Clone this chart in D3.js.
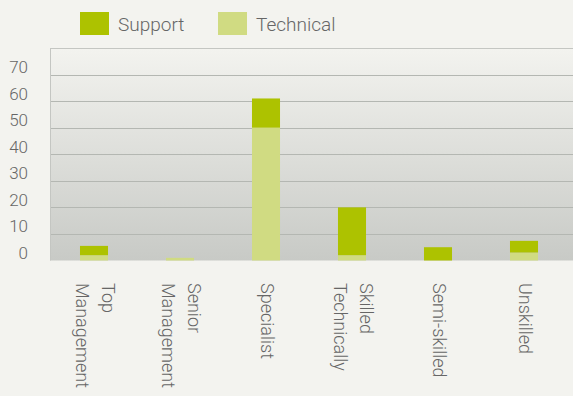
<!DOCTYPE html>
<html>
<head>
<meta charset="utf-8">
<script src="https://cdn.jsdelivr.net/npm/d3@7"></script>
<style>
  body { margin: 0; background: #f3f3ef; }
  svg text { font-family: Roboto, "Open Sans", sans-serif; font-weight: 300; fill: #666; }
</style>
</head>
<body>
<div id="chart"></div>
<script>
var width = 573, height = 396;

// data
var categories = ["Top Management", "Senior Management", "Specialist", "Technically Skilled", "Semi-skilled", "Unskilled"];
var categoryLines = [["Top", "Management"], ["Senior", "Management"], ["Specialist"], ["Skilled", "Technically"], ["Semi-skilled"], ["Unskilled"]];
var technical = [2, 1, 50, 2, 0, 3];
var support = [3.5, 0, 11, 18, 5, 4.4];
var seriesNames = ["Support", "Technical"];
var yTicks = [0, 10, 20, 30, 40, 50, 60, 70];

var colors = { Support: "#adc200", Technical: "#d0db82" };

var plot = { left: 50, right: 573, top: 48, bottom: 260.5 };

var svg = d3.select("#chart")
    .append("svg")
    .attr("width", width)
    .attr("height", height);

// background gradient of the plot
var grad = svg.append("defs").append("linearGradient")
    .attr("id", "bg")
    .attr("x1", 0).attr("y1", 0).attr("x2", 0).attr("y2", 1);
grad.append("stop").attr("offset", "0%").attr("stop-color", "#f3f3ef");
grad.append("stop").attr("offset", "100%").attr("stop-color", "#c8cac6");

svg.append("rect")
    .attr("x", plot.left)
    .attr("y", plot.top)
    .attr("width", plot.right - plot.left)
    .attr("height", plot.bottom - plot.top)
    .attr("fill", "url(#bg)");

var x = d3.scaleBand()
    .domain(categories)
    .range([51, 567])
    .paddingInner(0.674)
    .paddingOuter(0.337);

var y = d3.scaleLinear()
    .domain([0, 80])
    .range([plot.bottom, plot.top]);

// grid lines
svg.append("g")
    .selectAll("line")
    .data(yTicks.filter(d => d > 0).concat([80]))
    .enter()
    .append("line")
    .attr("x1", plot.left)
    .attr("x2", plot.right)
    .attr("y1", d => Math.round(y(d)) + 0.5)
    .attr("y2", d => Math.round(y(d)) + 0.5)
    .attr("stroke", d => d == 80 ? "#c4c6c2" : "#b4b7b2")
    .attr("stroke-width", 1);

svg.append("line")
    .attr("x1", plot.left + 0.5).attr("x2", plot.left + 0.5)
    .attr("y1", plot.top).attr("y2", plot.bottom)
    .attr("stroke", "#c4c6c2");

// y labels
svg.append("g")
    .selectAll("text")
    .data(yTicks)
    .enter()
    .append("text")
    .attr("x", 28)
    .attr("y", d => y(d) - 1.5)
    .attr("text-anchor", "end")
    .attr("font-size", 17)
    .text(d => d);

// stacked bars
var rows = categories.map((c, i) => ({ cat: c, Technical: technical[i], Support: support[i] }));
var stack = d3.stack().keys(["Technical", "Support"])(rows);

svg.append("g")
    .selectAll("g")
    .data(stack)
    .enter()
    .append("g")
    .attr("fill", d => colors[d.key])
    .selectAll("rect")
    .data(d => d)
    .enter()
    .append("rect")
    .attr("x", d => x(d.data.cat))
    .attr("width", x.bandwidth())
    .attr("y", d => y(d[1]))
    .attr("height", d => y(d[0]) - y(d[1]));

// category labels, rotated
var lh = 26;
var labels = svg.append("g")
    .selectAll("text")
    .data(categories)
    .enter()
    .append("text")
    .attr("transform", d => "translate(" + (x(d) + x.bandwidth() / 2) + ",283) rotate(90)")
    .attr("font-size", 18);

labels.selectAll("tspan")
    .data((d, i) => categoryLines[i].map((t, j, a) => ({ t: t, off: 5 + (j - (a.length - 1) / 2) * lh })))
    .enter()
    .append("tspan")
    .attr("x", 0)
    .attr("y", d => d.off)
    .text(d => d.t);

// legend
var legendX = [80, 218];
var legend = svg.append("g")
    .selectAll("g")
    .data(seriesNames)
    .enter()
    .append("g")
    .attr("transform", (d, i) => "translate(" + legendX[i] + ",12)");

legend.append("rect")
    .attr("width", 29)
    .attr("height", 23)
    .attr("fill", d => colors[d]);

legend.append("text")
    .attr("x", 38)
    .attr("y", 19)
    .attr("font-size", 19)
    .text(d => d);
</script>
</body>
</html>
